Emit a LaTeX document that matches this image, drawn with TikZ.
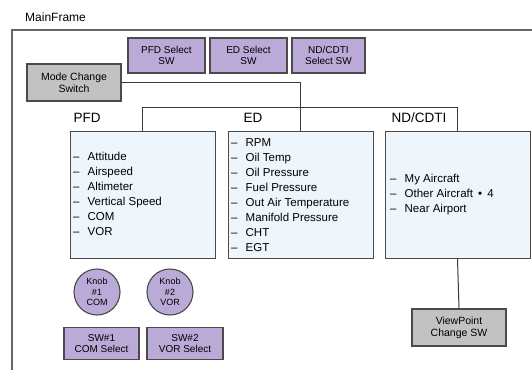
\documentclass[tikz,border=0pt]{standalone}
\usepackage{fontspec}
\setmainfont{Liberation Sans}
\newcommand\dashitem{\makebox[14.5pt][l]{–}}
\definecolor{purp}{HTML}{B9AAD7}
\definecolor{grayfill}{HTML}{C2C2C2}
\definecolor{lightblue}{HTML}{EEF6FC}
\definecolor{edge}{HTML}{4A4A4A}
\definecolor{lin}{HTML}{3A3A3A}
\begin{document}
\begin{tikzpicture}[x=1pt,y=-1pt,
  selbox/.style={draw=edge,line width=1.1pt,fill=purp,inner sep=0pt,align=center,font=\fontsize{10}{11}\selectfont},
  graybox/.style={draw=edge,line width=1.1pt,fill=grayfill,inner sep=0pt,align=center,font=\fontsize{10.5}{12}\selectfont},
  panel/.style={draw=edge,line width=1pt,fill=lightblue,inner sep=0pt},
  knob/.style={circle,draw=edge,line width=1.1pt,fill=purp,inner sep=0pt,minimum size=46pt,align=center,font=\fontsize{9}{10.5}\selectfont},
  listtxt/.style={anchor=west,inner sep=0pt,align=left,font=\fontsize{11.5}{15}\selectfont},
  paneltitle/.style={inner sep=0pt,font=\fontsize{13.5}{15}\selectfont},
  conn/.style={draw=lin,line width=1pt}]
\useasboundingbox (0,0) rectangle (532,369);
% frame (top and left edges)
\draw[draw=gray!80!black,line width=1.2pt] (12,370) -- (12,30) -- (533,30);
\node[anchor=west,inner sep=0pt,font=\fontsize{12}{14}\selectfont] (mf) at (25,17) {MainFrame};
% select switches
\node[selbox,minimum width=77pt,minimum height=35pt] (pfdsel) at (166.5,55.5) {PFD Select\\SW};
\node[selbox,minimum width=77pt,minimum height=35pt] (edsel) at (248.5,55.5) {ED Select\\SW};
\node[selbox,minimum width=73pt,minimum height=35pt] (ndsel) at (328.5,55.5) {ND/CDTI\\Select SW};
\node[graybox,minimum width=94pt,minimum height=37pt] (mode) at (74,82.5) {Mode Change\\Switch};
% panels
\node[panel,minimum width=145pt,minimum height=127pt] (pfd) at (142.5,194.5) {};
\node[panel,minimum width=145pt,minimum height=127pt] (ed) at (300.5,194.5) {};
\node[panel,minimum width=145pt,minimum height=127pt] (nd) at (457.5,194.5) {};
\node[paneltitle] (pfdt) at (87,118) {PFD};
\node[paneltitle] (edt) at (253,118) {ED};
\node[paneltitle] (ndt) at (419,118) {ND/CDTI};
\node[listtxt] (pfdl) at (73,194) {\dashitem Attitude\\\dashitem Airspeed\\\dashitem Altimeter\\\dashitem Vertical Speed\\\dashitem COM\\\dashitem VOR};
\node[listtxt] (edl) at (231,195) {\dashitem RPM\\\dashitem Oil Temp\\\dashitem Oil Pressure\\\dashitem Fuel Pressure\\\dashitem Out Air Temperature\\\dashitem Manifold Pressure\\\dashitem CHT\\\dashitem EGT};
\node[listtxt] (ndl) at (390,195) {\dashitem My Aircraft\\\dashitem Other Aircraft \,•\, 4\\\dashitem Near Airport};
% knobs and switches
\node[knob] (k1) at (97,292) {Knob\\\#1\\COM};
\node[knob] (k2) at (170,292) {Knob\\\#2\\VOR};
\node[selbox,minimum width=75pt,minimum height=32pt] (sw1) at (101.5,343.5) {SW\#1\\COM Select};
\node[selbox,minimum width=76pt,minimum height=32pt] (sw2) at (185,343.5) {SW\#2\\VOR Select};
\node[graybox,minimum width=94pt,minimum height=37pt] (vp) at (459,327.5) {ViewPoint\\Change SW};
% connectors
\draw[conn] (mode.east) -| (ed.north);
\draw[conn] (pfd.north) -- ++(0,-23) -| (nd.north);
\draw[conn] (nd.south) -- (vp.north);
\end{tikzpicture}
\end{document}
